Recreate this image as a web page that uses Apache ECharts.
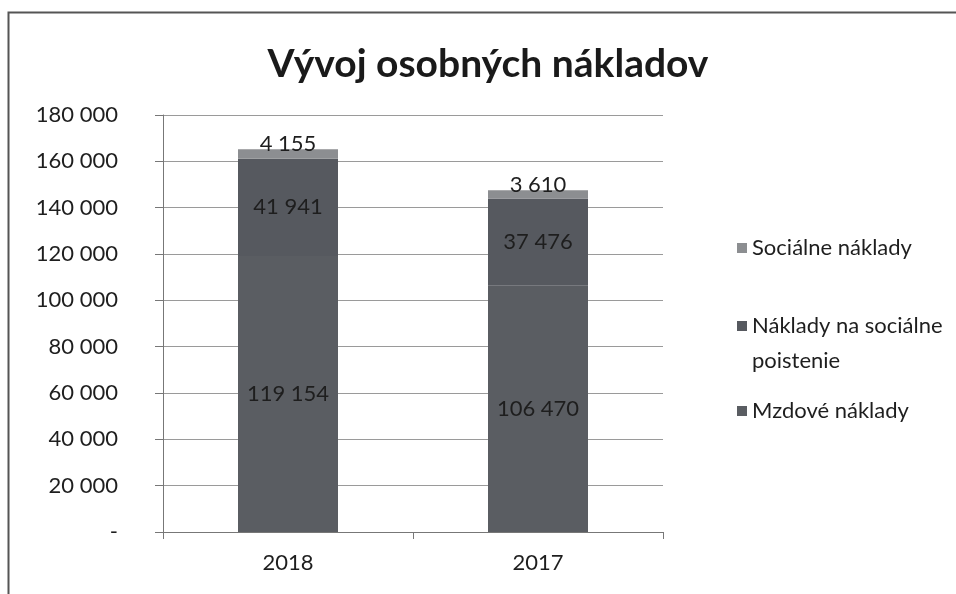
<html>
<head>
<meta charset="utf-8">
<script src="https://cdn.jsdelivr.net/npm/echarts@6/dist/echarts.min.js"></script>
<style>
  body { margin: 0; background: #fff; }
  #chart { width: 956px; height: 594px; }
</style>
</head>
<body>
<div id="chart"></div>
<script type="text/javascript">
    // data
    var categories = ['2018', '2017'];
    var mzdove = [119154, 106470];
    var poistenie = [41941, 37476];
    var socialne = [4155, 3610];
    var seriesNames = ['Mzdové náklady', 'Náklady na sociálne poistenie', 'Sociálne náklady'];
    var yMax = 180000;
    var yStep = 20000;

    var font = 'Lato';

    function fmt(v) {
        if (v === 0) return '-';
        return String(v).replace(/\B(?=(\d{3})+(?!\d))/g, ' ');
    }

    var myChart = echarts.init(document.getElementById('chart'));

    var labelStyle = {
        show: true,
        position: 'inside',
        color: '#1e1e1e',
        fontFamily: font,
        fontSize: 22,
        formatter: function (p) { return fmt(p.value); }
    };

    //一个图例一个位置，像Excel那样
    function legendFor(name, top, text) {
        var lg = {
            orient: 'vertical',
            left: 732,
            top: top,
            icon: 'rect',
            itemWidth: 10,
            itemHeight: 10,
            selectedMode: false,
            data: [name],
            textStyle: {
                color: '#1e1e1e',
                fontFamily: font,
                fontSize: 22
            }
        };
        if (text) lg.formatter = function () { return text; };
        return lg;
    }

    var options = {
        backgroundColor: '#fff',
        animation: false,
        title: {
            text: 'Vývoj osobných nákladov',
            left: 483,
            textAlign: 'center',
            top: 40,
            textStyle: {
                fontFamily: font,
                fontSize: 39,
                fontWeight: 'bold',
                color: '#1a1a1a'
            }
        },
        legend: [
            legendFor(seriesNames[2], 232),
            legendFor(seriesNames[1], 310, 'Náklady na sociálne'),
            legendFor(seriesNames[0], 395)
        ],
        grid: {
            left: 163,
            right: 293,
            top: 115,
            bottom: 62
        },
        xAxis: {
            type: 'category',
            data: categories,
            axisLine: { lineStyle: { color: '#777', width: 1 } },
            axisTick: { show: true, length: 7, lineStyle: { color: '#777' } },
            axisLabel: {
                color: '#1e1e1e',
                fontFamily: font,
                fontSize: 22,
                margin: 20
            }
        },
        yAxis: {
            type: 'value',
            min: 0,
            max: yMax,
            interval: yStep,
            axisLine: { show: true, lineStyle: { color: '#777', width: 1 } },
            axisTick: { show: true, inside: false, length: 8, lineStyle: { color: '#777' } },
            splitLine: { lineStyle: { color: '#9a9a9a', width: 1 } },
            axisLabel: {
                color: '#1e1e1e',
                fontFamily: font,
                fontSize: 22,
                margin: 45,
                formatter: fmt
            }
        },
        series: [
            {
                name: seriesNames[0],
                type: 'bar',
                stack: 'total',
                barWidth: 100,
                data: mzdove,
                itemStyle: { color: '#5a5d62' },
                label: labelStyle
            },
            {
                name: seriesNames[1],
                type: 'bar',
                stack: 'total',
                barWidth: 100,
                data: poistenie,
                itemStyle: { color: '#56595f' },
                label: labelStyle
            },
            {
                name: seriesNames[2],
                type: 'bar',
                stack: 'total',
                barWidth: 100,
                data: socialne,
                itemStyle: { color: '#8c8e91' },
                label: Object.assign({}, labelStyle, { position: 'top', distance: -6 })
            }
        ],
        graphic: [{
            type: 'rect',
            shape: { x: 8.5, y: 12.5, width: 1000, height: 700 },
            style: { fill: null, stroke: '#555', lineWidth: 2 },
            silent: true
        }, {
            // druhý riadok legendy
            type: 'text',
            left: 752,
            top: 350,
            style: {
                text: 'poistenie',
                fill: '#1e1e1e',
                font: '22px Lato'
            },
            silent: true
        }]
    };

    myChart.setOption(options);
</script>
</body>
</html>
